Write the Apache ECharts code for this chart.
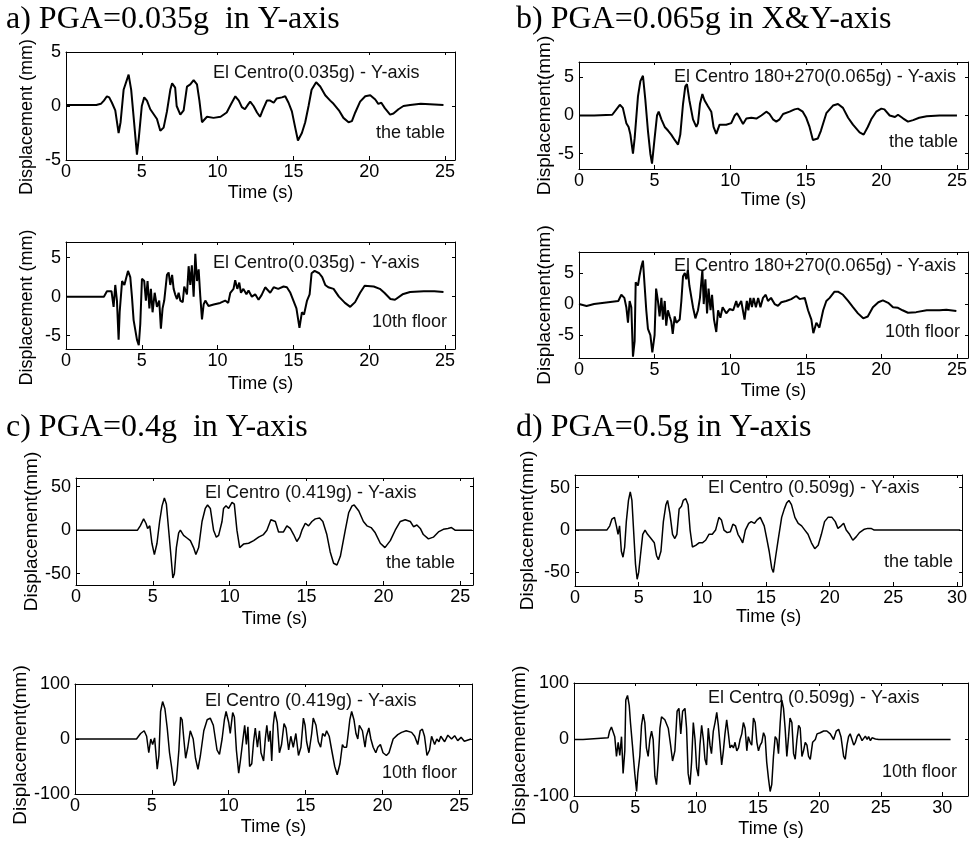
<!DOCTYPE html>
<html>
<head>
<meta charset="utf-8">
<script src="https://cdn.jsdelivr.net/npm/echarts@6/dist/echarts.min.js"></script>
<style>
  html, body { margin: 0; padding: 0; background: #fff; }
  #chart { width: 970px; height: 843px; }
</style>
</head>
<body>
<div id="chart"></div>
<script>
// Shake-table test, El Centro record: displacement time histories [time (s), displacement (mm)]

// a) PGA = 0.035g, Y-axis
const aTable = [[0,0.1],[1,0.1],[2,0.1],[2.3,0.2],[2.5,0.5],[2.7,0.9],[2.85,0.8],[3.03,0.3],[3.25,-0.4],[3.47,-2.5],[3.6,-1.5],[3.8,1.5],[4.13,2.9],[4.3,1.5],[4.46,-1],[4.68,-4.5],[4.8,-3],[5.0,0],[5.16,0.8],[5.34,0.5],[5.56,-0.3],[6.0,-1.2],[6.22,-2.3],[6.44,-2],[6.66,-0.5],[6.88,1.5],[7.0,2.1],[7.2,1.7],[7.3,0],[7.54,-0.8],[7.76,-0.4],[7.98,1.8],[8.2,2.0],[8.42,2.4],[8.64,2.0],[8.8,0.5],[8.97,-1.5],[9.3,-1.0],[9.73,-1.1],[10.2,-1.0],[10.6,-0.6],[10.9,0.2],[11.17,0.9],[11.4,0.5],[11.6,-0.1],[11.8,-0.3],[12.04,0.2],[12.15,0.4],[12.37,0],[12.6,-0.6],[12.8,-1.0],[13.0,-0.3],[13.25,0.5],[13.47,0.5],[13.7,0.3],[13.9,0.7],[14.24,0.8],[14.46,0.9],[14.68,0.3],[14.9,-0.5],[15.12,-2.0],[15.3,-3.2],[15.56,-2.5],[15.78,-1.5],[16.0,0],[16.2,1.5],[16.5,2.2],[16.77,1.8],[17.1,1.0],[17.43,0.5],[17.65,0.2],[18.0,-0.4],[18.3,-1.1],[18.64,-1.5],[18.86,-1.4],[19.08,-0.6],[19.4,0.4],[19.74,0.9],[20.07,1.0],[20.4,0.6],[20.6,0.2],[20.8,0.3],[21.03,-0.2],[21.38,-0.8],[21.6,-0.7],[21.93,-0.3],[22.26,0],[22.7,0.1],[23.4,0.2],[24.3,0.15],[24.9,0.1]];
const aFloor = [[0,0],[1.35,0],[1.4,0.2],[1.45,0],[2.5,0],[2.7,0.7],[3.0,0.7],[3.14,-1.3],[3.25,1.5],[3.36,-0.5],[3.47,-5.5],[3.54,-2],[3.7,2.0],[3.85,1.5],[4.09,3.3],[4.24,2.5],[4.35,0],[4.46,-3],[4.68,-5.5],[4.8,-6.2],[4.9,-3.5],[5.01,2.3],[5.16,2.0],[5.27,-0.5],[5.38,2.0],[5.5,-1.5],[5.6,1.0],[5.71,-2.0],[5.85,0.5],[6.0,-1.3],[6.15,-0.5],[6.26,-4.1],[6.37,-1.5],[6.48,-0.5],[6.66,2.8],[6.77,3.1],[6.88,1.5],[7.0,2.8],[7.1,1.0],[7.2,0.3],[7.32,-0.3],[7.43,0.5],[7.54,-0.5],[7.7,-0.7],[7.8,1.3],[7.98,0.3],[8.09,3.9],[8.2,1.5],[8.3,4.0],[8.42,0],[8.53,5.5],[8.64,2.0],[8.75,3.5],[8.86,0],[8.97,-2.9],[9.08,-1.0],[9.19,-0.5],[9.4,-1.2],[9.74,-1.0],[10.17,-0.8],[10.5,-0.5],[10.7,-0.8],[10.84,0.5],[11.05,1.0],[11.16,2.1],[11.3,1.0],[11.43,1.8],[11.54,0.5],[11.7,1.0],[11.9,0.3],[12.04,0.8],[12.26,0],[12.48,0.3],[12.7,-0.4],[12.9,0.2],[13.14,1.2],[13.47,0.5],[13.7,1.2],[14.0,1.0],[14.35,1.3],[14.57,1.2],[14.8,0.5],[15.0,-0.5],[15.2,-1.5],[15.4,-4.0],[15.56,-2.0],[15.7,-2.3],[15.9,-0.5],[16.07,0.3],[16.2,3.0],[16.4,3.3],[16.7,3.0],[16.9,2.5],[17.1,1.5],[17.3,1.2],[17.65,1.0],[18.0,0],[18.4,-0.8],[18.75,-1.3],[19.07,-0.7],[19.4,0.5],[19.7,1.4],[20.3,1.3],[20.7,1.0],[21.0,0.5],[21.4,-0.3],[21.7,-0.4],[22.2,0.3],[22.7,0.6],[23.6,0.7],[24.3,0.7],[24.9,0.6]];

// b) PGA = 0.065g, X&Y-axis (Y response shown)
const bTable = [[0,0],[1,0],[2.2,0.1],[2.7,1.4],[2.9,1.0],[3.13,-1.0],[3.28,-1.5],[3.4,-2.5],[3.57,-5.0],[3.68,-3.0],[3.9,2.5],[4.06,4.5],[4.23,5.2],[4.39,2.0],[4.56,-2.0],[4.72,-5],[4.83,-6.3],[5.0,-3.0],[5.16,0],[5.27,0.5],[5.45,-0.5],[5.67,-1.5],[5.9,-2.0],[6.1,-2.5],[6.33,-3.2],[6.55,-3.8],[6.7,-2.5],[6.88,1.5],[7.03,3.8],[7.14,4.1],[7.3,2.0],[7.54,-0.5],[7.76,-1.5],[7.87,-1.0],[8.0,1.5],[8.16,2.8],[8.3,2.0],[8.53,1.2],[8.75,0.5],[8.9,-1.5],[9.08,-2.4],[9.3,-1.2],[9.74,-1.2],[10.07,-1.0],[10.3,0],[10.45,0.3],[10.6,-0.2],[10.85,-1.1],[11.07,-0.4],[11.4,-0.3],[11.73,-0.4],[12.06,0],[12.39,0.5],[12.6,0.2],[12.83,-0.5],[13.05,-0.8],[13.27,-0.5],[13.5,0.2],[13.93,0.5],[14.26,0.8],[14.48,0.9],[14.8,0.5],[15.03,-0.3],[15.25,-1.5],[15.47,-3.2],[15.8,-3.0],[16.0,-2.0],[16.36,0.3],[16.8,1.3],[17.13,1.5],[17.46,1.0],[17.8,-0.3],[18.12,-1.2],[18.56,-2.2],[18.83,-2.5],[19.1,-1.5],[19.33,-0.5],[19.66,0.5],[20.0,0.9],[20.2,0.8],[20.55,0],[20.9,-0.2],[21.1,0.1],[21.45,-0.4],[21.76,-0.8],[22.1,-0.6],[22.5,-0.3],[23.0,-0.1],[23.85,0],[25,0]];
const bFloor = [[0,0],[0.5,-0.3],[1.0,0],[2.6,0.5],[2.8,1.5],[3.0,1.0],[3.13,-0.5],[3.24,-3.0],[3.35,0.5],[3.46,-0.5],[3.57,-8.5],[3.68,-6.0],[3.75,3.5],[3.9,3.0],[4.0,4.5],[4.12,6.0],[4.23,7.0],[4.34,3.0],[4.45,-1.0],[4.56,-4.0],[4.72,-5.0],[4.85,-7.8],[5.0,-5.0],[5.1,2.5],[5.22,0.5],[5.33,-2.0],[5.45,1.0],[5.55,-2.5],[5.67,0.5],[5.77,-3.5],[5.88,-1.0],[6.0,-2.0],[6.1,-2.8],[6.2,-4.8],[6.33,-2.0],[6.44,-3.0],[6.66,-2.5],[6.77,0.5],[6.88,4.5],[7.0,5.0],[7.1,4.0],[7.2,5.5],[7.3,3.0],[7.54,-0.5],[7.7,-2.3],[7.87,-1.0],[8.0,1.0],[8.16,5.5],[8.25,0],[8.36,4.0],[8.47,-1.5],[8.57,2.5],[8.7,-1.0],[8.8,1.5],[8.93,-2.5],[9.08,-4.5],[9.2,-1.0],[9.35,-2.2],[9.5,-0.5],[9.74,-1.5],[9.96,-0.8],[10.2,-1.0],[10.4,0.5],[10.5,-0.5],[10.73,0.5],[10.95,-2.5],[11.1,0.5],[11.2,-1.0],[11.33,1.0],[11.44,-0.5],[11.55,1.0],[11.7,-0.5],[11.85,1.0],[12.0,-0.5],[12.17,1.0],[12.35,1.5],[12.5,0.5],[12.7,1.0],[12.94,0],[13.16,-0.3],[13.38,0.3],[13.7,0.5],[14.04,0.8],[14.37,1.3],[14.6,0.8],[14.93,1.0],[15.15,-1.0],[15.37,-2.5],[15.5,-4.7],[15.7,-3.0],[15.9,-3.8],[16.15,-1.0],[16.36,0.5],[16.58,1.0],[16.9,2.0],[17.13,2.0],[17.46,1.5],[17.8,0.5],[18.12,-0.5],[18.45,-1.5],[18.8,-2.3],[19.1,-2.0],[19.44,-0.5],[19.8,0.3],[20.1,0.6],[20.45,0.2],[20.77,-0.5],[21.1,-0.6],[21.4,-1.0],[21.76,-1.4],[22.3,-1.3],[23.0,-1.0],[23.85,-1.0],[24.3,-0.9],[24.96,-1.1]];

// c) PGA = 0.4g, Y-axis
const cTable = [[0,0],[4.0,0],[4.18,5],[4.4,13],[4.55,8],[4.66,2],[4.8,5],[4.94,-15],[5.1,-28],[5.27,-15],[5.44,10],[5.6,28],[5.75,37],[5.88,30],[6.03,0],[6.18,-30],[6.3,-55],[6.4,-50],[6.53,-20],[6.68,-3],[6.79,0],[7.0,-6],[7.22,-9],[7.44,-12],[7.65,-20],[7.8,-28],[7.98,-20],[8.2,10],[8.41,25],[8.56,29],[8.74,25],[8.95,0],[9.13,-8],[9.28,-6],[9.5,10],[9.6,25],[9.76,28],[9.93,25],[10.15,32],[10.3,30],[10.47,0],[10.65,-20],[10.9,-16],[11.23,-15],[11.56,-12],[11.88,-8],[12.2,-5],[12.42,0],[12.68,12],[12.97,10],[13.18,-2],[13.5,-2],[13.72,5],[13.94,2],[14.16,-5],[14.37,-13],[14.55,-8],[14.7,0],[14.92,8],[15.13,5],[15.35,10],[15.57,13],[15.85,14],[16.06,10],[16.32,-5],[16.54,-25],[16.76,-38],[16.98,-40],[17.2,-30],[17.52,0],[17.74,20],[17.96,28],[18.1,29],[18.4,22],[18.7,10],[18.93,5],[19.2,3],[19.47,-3],[19.8,-15],[20.1,-20],[20.45,-12],[20.77,0],[21.1,10],[21.42,12],[21.75,10],[21.96,4],[22.18,6],[22.4,2],[22.6,-5],[22.93,-10],[23.25,-8],[23.58,-2],[23.9,1],[24.2,2],[24.43,3],[24.66,0],[25.76,0]];
const cFloor = [[0,0],[4.0,0],[4.27,10],[4.5,15],[4.66,5],[4.8,-25],[4.93,0],[5.05,-10],[5.18,2],[5.35,-55],[5.46,-30],[5.57,50],[5.7,68],[5.85,55],[6.0,20],[6.15,-25],[6.28,-50],[6.44,-85],[6.6,-75],[6.76,-20],[6.87,40],[6.97,35],[7.08,0],[7.2,-35],[7.34,-15],[7.5,15],[7.69,0],[7.84,-35],[8.0,-55],[8.16,-30],[8.38,15],[8.6,35],[8.8,38],[9.0,25],[9.24,-20],[9.4,-28],[9.57,0],[9.72,35],[9.83,50],[10.0,30],[10.1,10],[10.26,48],[10.37,40],[10.5,-20],[10.65,-62],[10.76,-40],[10.93,0],[11.04,25],[11.15,-10],[11.25,22],[11.36,-50],[11.5,-45],[11.62,-5],[11.73,20],[11.87,-15],[12.0,15],[12.1,-25],[12.27,-40],[12.38,0],[12.48,25],[12.6,-5],[12.7,15],[12.8,-40],[12.9,25],[13.0,50],[13.16,30],[13.3,-25],[13.44,-10],[13.6,28],[13.73,20],[13.9,-20],[14.04,5],[14.2,-15],[14.37,10],[14.54,-30],[14.7,-15],[14.86,38],[14.97,25],[15.07,-5],[15.22,-25],[15.4,10],[15.5,38],[15.68,25],[15.83,-5],[15.98,-15],[16.11,10],[16.26,5],[16.37,15],[16.54,5],[16.7,-20],[16.9,-50],[17.06,-65],[17.24,-45],[17.4,-10],[17.5,-15],[17.67,-15],[17.78,10],[17.88,35],[18.0,50],[18.15,35],[18.28,10],[18.4,0],[18.5,25],[18.7,15],[18.87,-15],[18.96,5],[19.12,20],[19.25,0],[19.4,-15],[19.57,-25],[19.7,-15],[19.87,-10],[20.04,-25],[20.26,-30],[20.43,-25],[20.7,0],[21.0,8],[21.25,12],[21.55,15],[21.9,12],[22.1,5],[22.3,-10],[22.46,15],[22.6,18],[22.74,5],[22.9,-30],[23.07,-20],[23.2,5],[23.4,-10],[23.54,0],[23.68,-5],[23.8,5],[24.05,-5],[24.26,7],[24.5,0],[24.7,6],[24.9,-3],[25.12,3],[25.33,-4],[25.77,0]];

// d) PGA = 0.5g, Y-axis
const dTable = [[0,0],[2.5,0],[2.73,5],[2.9,13],[3.1,15],[3.25,5],[3.38,-5],[3.5,5],[3.64,-25],[3.77,-32],[3.9,-20],[4.03,10],[4.2,35],[4.34,45],[4.47,35],[4.6,0],[4.75,-40],[4.88,-58],[5.0,-50],[5.14,-30],[5.32,-5],[5.5,0],[5.7,-5],[5.97,-10],[6.23,-15],[6.4,-30],[6.55,-35],[6.75,-25],[6.94,10],[7.14,30],[7.27,35],[7.45,20],[7.66,-5],[7.84,-10],[8.0,-5],[8.18,25],[8.36,28],[8.5,35],[8.7,37],[8.88,30],[9.04,0],[9.22,-20],[9.48,-18],[9.74,-15],[10.0,-15],[10.26,-12],[10.52,-5],[10.78,-5],[11.04,0],[11.3,15],[11.5,12],[11.7,0],[11.95,-3],[12.2,-2],[12.4,7],[12.6,5],[12.8,-5],[13.0,-10],[13.17,-15],[13.38,0],[13.64,8],[13.84,10],[14.1,8],[14.3,12],[14.55,15],[14.68,17],[14.86,5],[15.06,-10],[15.25,-25],[15.45,-45],[15.58,-50],[15.77,-30],[15.97,-10],[16.23,15],[16.44,25],[16.62,32],[16.8,35],[17.0,30],[17.27,15],[17.53,8],[17.8,5],[18.05,0],[18.3,-5],[18.57,-15],[18.83,-22],[19.1,-18],[19.35,-5],[19.6,10],[19.87,15],[20.18,15],[20.44,10],[20.65,2],[20.9,5],[21.1,8],[21.3,0],[21.56,-5],[21.82,-12],[22.08,-8],[22.34,-3],[22.73,1],[22.99,2],[23.25,2],[23.5,0],[30.26,0]];
const dFloor = [[0,0],[0.73,0],[0.74,3],[2.78,3],[2.9,15],[3.05,22],[3.19,20],[3.32,5],[3.46,-30],[3.6,-5],[3.73,-28],[3.87,5],[4.0,-60],[4.14,-20],[4.22,70],[4.36,78],[4.5,60],[4.6,30],[4.76,-10],[4.95,-60],[5.1,-92],[5.2,-60],[5.36,-30],[5.5,25],[5.64,45],[5.77,30],[5.9,-15],[6.04,-30],[6.18,0],[6.32,15],[6.45,0],[6.59,-65],[6.72,-80],[6.86,-40],[7.0,20],[7.13,40],[7.4,35],[7.68,20],[7.87,-10],[8.03,-38],[8.22,-20],[8.4,50],[8.55,55],[8.7,10],[8.85,50],[9.04,55],[9.17,20],[9.3,-60],[9.45,-80],[9.58,-40],[9.72,30],[9.86,0],[9.99,-50],[10.13,-65],[10.26,-10],[10.4,25],[10.54,0],[10.67,-35],[10.8,-45],[10.94,20],[11.08,-10],[11.2,-25],[11.35,15],[11.49,30],[11.63,48],[11.76,25],[11.9,-10],[12.03,-45],[12.17,-20],[12.3,10],[12.44,35],[12.58,10],[12.71,-15],[12.85,-10],[12.99,-15],[13.12,-5],[13.26,-20],[13.4,-15],[13.53,0],[13.67,10],[13.8,30],[13.94,20],[14.08,-20],[14.2,5],[14.35,-5],[14.48,-10],[14.62,38],[14.76,30],[14.9,-5],[15.03,-20],[15.17,-10],[15.3,-5],[15.44,12],[15.57,5],[15.7,-40],[15.85,-70],[15.98,-92],[16.11,-80],[16.25,-30],[16.39,5],[16.53,0],[16.66,-25],[16.8,30],[16.93,70],[17.07,55],[17.2,20],[17.34,-30],[17.48,5],[17.6,38],[17.75,30],[17.89,-25],[18.02,-35],[18.16,0],[18.3,25],[18.43,20],[18.57,-30],[18.7,-20],[18.84,-5],[18.98,-10],[19.11,-30],[19.25,-35],[19.44,-5],[19.66,0],[19.8,10],[20.06,12],[20.34,15],[20.6,15],[20.88,10],[21.15,0],[21.37,15],[21.56,18],[21.75,5],[21.97,-30],[22.1,-35],[22.24,-10],[22.37,5],[22.5,10],[22.65,0],[22.79,-10],[22.92,-5],[23.06,5],[23.2,10],[23.33,5],[23.47,-2],[23.6,2],[23.74,6],[23.88,0],[24.0,5],[24.15,-2],[24.28,3],[24.42,0],[24.56,1],[24.83,0],[30.68,0]];

// Tick values
const timeTicks25 = [0, 5, 10, 15, 20, 25];
const timeTicks30 = [0, 5, 10, 15, 20, 25, 30];
const dispTicks5 = [-5, 0, 5];
const dispTicks50 = [-50, 0, 50];
const dispTicks100 = [-100, 0, 100];

// Text
const panelTitles = ['a) PGA=0.035g  in Y-axis', 'b) PGA=0.065g in X&Y-axis', 'c) PGA=0.4g  in Y-axis', 'd) PGA=0.5g in Y-axis'];
const recordNames = ['El Centro(0.035g) - Y-axis', 'El Centro 180+270(0.065g) - Y-axis', 'El Centro (0.419g) - Y-axis', 'El Centro (0.509g) - Y-axis'];
const locations = ['the table', '10th floor'];
const xTitle = 'Time (s)';

const SANS = '"Liberation Sans", Arial, sans-serif';
const SERIF = '"Liberation Serif", "Times New Roman", serif';

// Layout of the eight small plots (pixel boxes and axis ranges)
const panels = [
  { data: aTable, rec: 0, loc: 0, box: [66, 52, 389, 108], x: [0, 25.66], y: [-5, 5], xt: timeTicks25, yt: dispTicks5,
    yName: 'Displacement (mm)', yGap: 30, yPad: [0, 22, 0, 0], xGap: 24, lw: 2, recPos: [213, 73], locPos: [445, 133] },
  { data: aFloor, rec: 0, loc: 1, box: [66, 242, 389, 107], x: [0, 25.66], y: [-6.7, 7], xt: timeTicks25, yt: dispTicks5,
    yName: 'Displacement (mm)', yGap: 30, yPad: [0, 24, 0, 0], xGap: 26, lw: 2, recPos: [213, 263], locPos: [447, 322] },
  { data: bTable, rec: 1, loc: 0, box: [579, 62, 389, 107], x: [0, 25.73], y: [-7, 7], xt: timeTicks25, yt: dispTicks5,
    yName: 'Displacement(mm)', yGap: 21, yPad: 0, xGap: 22, lw: 2, recPos: [674, 77], locPos: [958, 142] },
  { data: bFloor, rec: 1, loc: 1, box: [579, 252, 389, 106], x: [0, 25.73], y: [-8.7, 8.4], xt: timeTicks25, yt: dispTicks5,
    yName: 'Displacement(mm)', yGap: 21, yPad: 0, xGap: 24, lw: 2, recPos: [674, 266], locPos: [960, 332] },
  { data: cTable, rec: 2, loc: 0, box: [76, 478, 397, 107], x: [0, 25.83], y: [-63, 60], xt: timeTicks25, yt: dispTicks50,
    yName: 'Displacement(mm)', yGap: 29, yPad: 0, xGap: 25, lw: 1.5, recPos: [205, 493], locPos: [455, 563] },
  { data: cFloor, rec: 2, loc: 1, box: [75, 684, 397, 110], x: [0, 25.83], y: [-100, 100], xt: timeTicks25, yt: dispTicks100,
    yName: 'Displacement(mm)', yGap: 38, yPad: [0, 12, 0, 0], xGap: 24, lw: 1.5, recPos: [205, 701], locPos: [457, 773] },
  { data: dTable, rec: 3, loc: 0, box: [575, 475, 390, 111], x: [0, 30.4], y: [-66, 65], xt: timeTicks30, yt: dispTicks50,
    yName: 'Displacement(mm)', yGap: 38, yPad: 0, xGap: 22, lw: 1.5, recPos: [708, 488], locPos: [953, 562] },
  { data: dFloor, rec: 3, loc: 1, box: [574, 683, 394, 113], x: [0, 32.1], y: [-100, 100], xt: timeTicks30, yt: dispTicks100,
    yName: 'Displacement(mm)', yGap: 41, yPad: [0, 12, 0, 0], xGap: 24, lw: 1.5, recPos: [708, 698], locPos: [957, 772] }
];

const titlePos = [[6, 4], [516, 4], [6, 412], [516, 412]];

const lineCol = '#000';
const axisLine = { show: true, onZero: false, lineStyle: { color: lineCol, width: 1 } };
const labelStyle = { color: '#000', fontFamily: SANS, fontSize: 18 };

const grid = [], xAxis = [], yAxis = [], series = [], graphic = [];

panels.forEach((p, i) => {
  grid.push({ left: p.box[0], top: p.box[1], width: p.box[2], height: p.box[3], containLabel: false });
  // bottom time axis
  xAxis.push({
    type: 'value', gridIndex: i, position: 'bottom', min: p.x[0], max: p.x[1],
    axisLine, splitLine: { show: false },
    axisTick: { show: true, inside: true, length: 4, customValues: p.xt, lineStyle: { color: lineCol } },
    axisLabel: Object.assign({ show: true, margin: 3, customValues: p.xt }, labelStyle),
    name: xTitle, nameLocation: 'middle', nameGap: p.xGap,
    nameTextStyle: { color: '#000', fontFamily: SANS, fontSize: 18 }
  });
  // mirrored top frame
  xAxis.push({
    type: 'value', gridIndex: i, position: 'top', min: p.x[0], max: p.x[1],
    axisLine, splitLine: { show: false },
    axisTick: { show: true, inside: true, length: 3, customValues: p.xt, lineStyle: { color: lineCol } },
    axisLabel: { show: false }
  });
  // left displacement axis
  yAxis.push({
    type: 'value', gridIndex: i, position: 'left', min: p.y[0], max: p.y[1],
    axisLine, splitLine: { show: false },
    axisTick: { show: true, inside: true, length: 4, customValues: p.yt, lineStyle: { color: lineCol } },
    axisLabel: Object.assign({ show: true, margin: 5, customValues: p.yt }, labelStyle),
    name: p.yName, nameLocation: 'middle', nameGap: p.yGap,
    nameTextStyle: { color: '#000', fontFamily: SANS, fontSize: i < 2 ? 18 : 19, padding: p.yPad }
  });
  // mirrored right frame
  yAxis.push({
    type: 'value', gridIndex: i, position: 'right', min: p.y[0], max: p.y[1],
    axisLine, splitLine: { show: false },
    axisTick: { show: true, inside: true, length: 3, customValues: p.yt, lineStyle: { color: lineCol } },
    axisLabel: { show: false }
  });
  series.push({
    type: 'line', xAxisIndex: 2 * i, yAxisIndex: 2 * i, data: p.data,
    showSymbol: false, symbol: 'none', smooth: false, clip: true,
    lineStyle: { color: lineCol, width: p.lw }, animation: false
  });
  graphic.push({
    type: 'text', x: p.recPos[0], y: p.recPos[1], silent: true,
    style: { text: recordNames[p.rec], fill: '#111', font: '18px ' + SANS, textAlign: 'left', textVerticalAlign: 'middle' }
  });
  graphic.push({
    type: 'text', x: p.locPos[0], y: p.locPos[1], silent: true,
    style: { text: locations[p.loc], fill: '#111', font: '18px ' + SANS, textAlign: 'right', textVerticalAlign: 'middle' }
  });
});

const title = panelTitles.map((t, k) => ({
  text: t, left: titlePos[k][0], top: titlePos[k][1], padding: 0,
  textStyle: { fontFamily: SERIF, fontSize: 32, fontWeight: 'normal', color: '#000' }
}));

const chart = echarts.init(document.getElementById('chart'), null, { renderer: 'canvas' });
chart.setOption({
  backgroundColor: '#fff',
  animation: false,
  title, grid, xAxis, yAxis, series, graphic
});
</script>
</body>
</html>
